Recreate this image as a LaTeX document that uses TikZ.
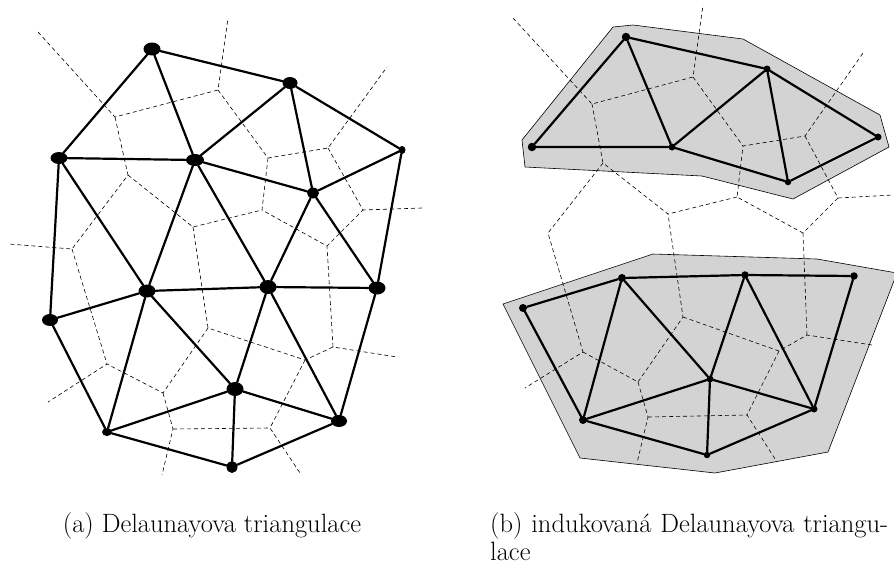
\documentclass[tikz,border=0pt]{standalone}
\usetikzlibrary{shapes.geometric}
\definecolor{hullgray}{RGB}{211,211,211}
\begin{document}
\begin{tikzpicture}[x=1pt,y=-1pt,
  tri/.style={line width=2.2pt, line cap=round},
  vor/.style={line width=0.6pt, dash pattern=on 4pt off 3pt},
  hull/.style={fill=hullgray, draw=black, line width=0.6pt, line join=round},
  dotnode/.style 2 args={ellipse, fill=black, draw=none, inner sep=0pt, minimum width=#1, minimum height=#2},
  rdot/.style={circle, fill=black, draw=none, inner sep=0pt, minimum size=#1},
  capt/.style={inner sep=0pt, font=\fontsize{26.5}{28}\selectfont}]
\path[use as bounding box] (0,0) rectangle (894,568);

% ================= (a) left =================
\node[dotnode={17pt}{13pt}] (A) at (152,49) {};
\node[dotnode={17pt}{12pt}] (B) at (59,158) {};
\node[dotnode={18pt}{12pt}] (C) at (195,160) {};
\node[dotnode={15pt}{12pt}] (D) at (290,83) {};
\node[dotnode={7pt}{8pt}]   (E) at (402,150) {};
\node[dotnode={12pt}{11pt}] (F) at (313,193) {};
\node[dotnode={17pt}{13pt}] (G) at (147,291) {};
\node[dotnode={16pt}{12pt}] (H) at (50,320) {};
\node[dotnode={10pt}{8pt}]  (I) at (107,432) {};
\node[dotnode={17pt}{14pt}] (J) at (268,287) {};
\node[dotnode={17pt}{13pt}] (K) at (377,288) {};
\node[dotnode={17pt}{14pt}] (L) at (235,389) {};
\node[dotnode={16pt}{12pt}] (M) at (339,421) {};
\node[dotnode={11pt}{12pt}] (N) at (232,467) {};

% Voronoi vertices (a)
\coordinate (v1) at (115,117);
\coordinate (v2) at (218,90);
\coordinate (v3) at (128,175);
\coordinate (v4) at (72,249);
\coordinate (v5) at (193,227);
\coordinate (v6) at (262,210);
\coordinate (v7) at (208,328);
\coordinate (v8) at (163,393);
\coordinate (v9) at (305,360);
\coordinate (v10) at (333,347);
\coordinate (v11) at (270,428);
\coordinate (v12) at (327,246);
\coordinate (v13) at (328,148);
\coordinate (v14) at (268,158);
\coordinate (v15) at (363,210);
\coordinate (v16) at (173,429);
\coordinate (v17) at (107,364);
\coordinate (e1) at (38,32);
\coordinate (e2) at (228,18);
\coordinate (e3) at (9,244);
\coordinate (e4) at (48,402);
\coordinate (e5) at (162,475);
\coordinate (e6) at (300,473);
\coordinate (e7) at (397,357);
\coordinate (e8) at (422,208);
\coordinate (e9) at (387,67);

\draw[vor] (e1) -- (v1) -- (v2) -- (e2);
\draw[vor] (v1) -- (v3) -- (v4) -- (e3);
\draw[vor] (v2) -- (v14) -- (v13) -- (e9);
\draw[vor] (v13) -- (v15) -- (e8);
\draw[vor] (v14) -- (v6) -- (v12) -- (v15);
\draw[vor] (v3) -- (v5) -- (v6);
\draw[vor] (v5) -- (v7) -- (v9) -- (v10) -- (e7);
\draw[vor] (v10) -- (v12);
\draw[vor] (v9) -- (v11) -- (e6);
\draw[vor] (v7) -- (v8) -- (v17) -- (e4);
\draw[vor] (v4) -- (v17);
\draw[vor] (v8) -- (v16) -- (e5);
\draw[vor] (v16) -- (v11);

\draw[tri] (A) -- (D) (A) -- (B) (A) -- (C) (B) -- (C) (B) -- (H) (B) -- (G)
  (C) -- (D) (C) -- (F) (C) -- (G) (C) -- (J) (D) -- (F) (D) -- (E) (E) -- (F)
  (E) -- (K) (F) -- (J) (F) -- (K) (G) -- (J) (G) -- (H) (G) -- (I) (G) -- (L)
  (J) -- (K) (J) -- (L) (J) -- (M) (K) -- (M) (H) -- (I) (I) -- (L) (I) -- (N)
  (L) -- (N) (L) -- (M) (M) -- (N);

% ================= (b) right =================
\path[hull] (613,27) -- (633,25) -- (743,39) -- (880,115) -- (889,147) -- (793,199)
  -- (702,176) -- (525,167) -- (522,140) -- cycle;
\path[hull] (653,254) -- (817,259) -- (897,273) -- (828,452) -- (715,473)
  -- (580,458) -- (503,304) -- cycle;

\node[rdot=8.5pt] (P1) at (626,37) {};
\node[rdot=8.5pt] (P2) at (532,147) {};
\node[rdot=7pt]   (P3) at (672,147) {};
\node[rdot=7pt]   (P4) at (767,69) {};
\node[rdot=7pt]   (P5) at (878,137) {};
\node[rdot=6.5pt] (P6) at (788,182) {};
\node[rdot=8pt]   (Q1) at (523,308) {};
\node[rdot=8pt]   (Q2) at (622,278) {};
\node[rdot=8pt]   (Q3) at (583,420) {};
\node[rdot=7.5pt] (Q4) at (745,275) {};
\node[rdot=7.5pt] (Q5) at (854,276) {};
\node[rdot=7pt]   (Q6) at (710,379) {};
\node[rdot=7pt]   (Q7) at (814,409) {};
\node[rdot=6.5pt] (Q8) at (707,455) {};

\coordinate (w1) at (592,104);
\coordinate (w2) at (693,77);
\coordinate (w3) at (603,163);
\coordinate (w4) at (668,214);
\coordinate (w5) at (743,146);
\coordinate (w6) at (805,136);
\coordinate (w7) at (838,198);
\coordinate (w8) at (737,197);
\coordinate (w9) at (548,233);
\coordinate (w10) at (583,352);
\coordinate (w11) at (638,382);
\coordinate (w12) at (648,417);
\coordinate (w13) at (683,317);
\coordinate (w14) at (803,233);
\coordinate (w15) at (807,335);
\coordinate (w16) at (747,415);
\coordinate (w17) at (779,351);
\coordinate (f1) at (513,18);
\coordinate (f2) at (703,5);
\coordinate (f3) at (863,53);
\coordinate (f4) at (893,195);
\coordinate (f5) at (872,345);
\coordinate (f6) at (777,462);
\coordinate (f7) at (637,463);
\coordinate (f8) at (525,388);

\draw[vor] (f1) -- (w1) -- (w2) -- (f2);
\draw[vor] (w2) -- (w5) -- (w6) -- (f3);
\draw[vor] (w6) -- (w7) -- (f4);
\draw[vor] (w7) -- (w14) -- (w8) -- (w5);
\draw[vor] (w8) -- (w4) -- (w3) -- (w1);
\draw[vor] (w3) -- (w9) -- (w10) -- (f8);
\draw[vor] (w10) -- (w11) -- (w13) -- (w4);
\draw[vor] (w11) -- (w12) -- (f7);
\draw[vor] (w12) -- (w16) -- (f6);
\draw[vor] (w13) -- (w17) -- (w15) -- (f5);
\draw[vor] (w17) -- (w16);
\draw[vor] (w14) -- (w15);

\draw[tri] (P1) -- (P2) (P1) -- (P3) (P1) -- (P4) (P2) -- (P3) (P3) -- (P4)
  (P3) -- (P6) (P4) -- (P6) (P4) -- (P5) (P5) -- (P6);
\draw[tri] (Q1) -- (Q2) (Q1) -- (Q3) (Q2) -- (Q3) (Q2) -- (Q4) (Q4) -- (Q5)
  (Q2) -- (Q6) (Q3) -- (Q6) (Q3) -- (Q8) (Q4) -- (Q6) (Q4) -- (Q7) (Q5) -- (Q7)
  (Q6) -- (Q7) (Q6) -- (Q8) (Q8) -- (Q7);

% ================= captions =================
\node[capt, anchor=base] (capa) at (212,532) {(a) Delaunayova triangulace};
\node[capt, anchor=north west, align=left, text width=402pt] (capb) at (490,512)
  {\makebox[402pt][s]{(b) indukovaná Delaunayova triangu-}\\lace};
\end{tikzpicture}
\end{document}
